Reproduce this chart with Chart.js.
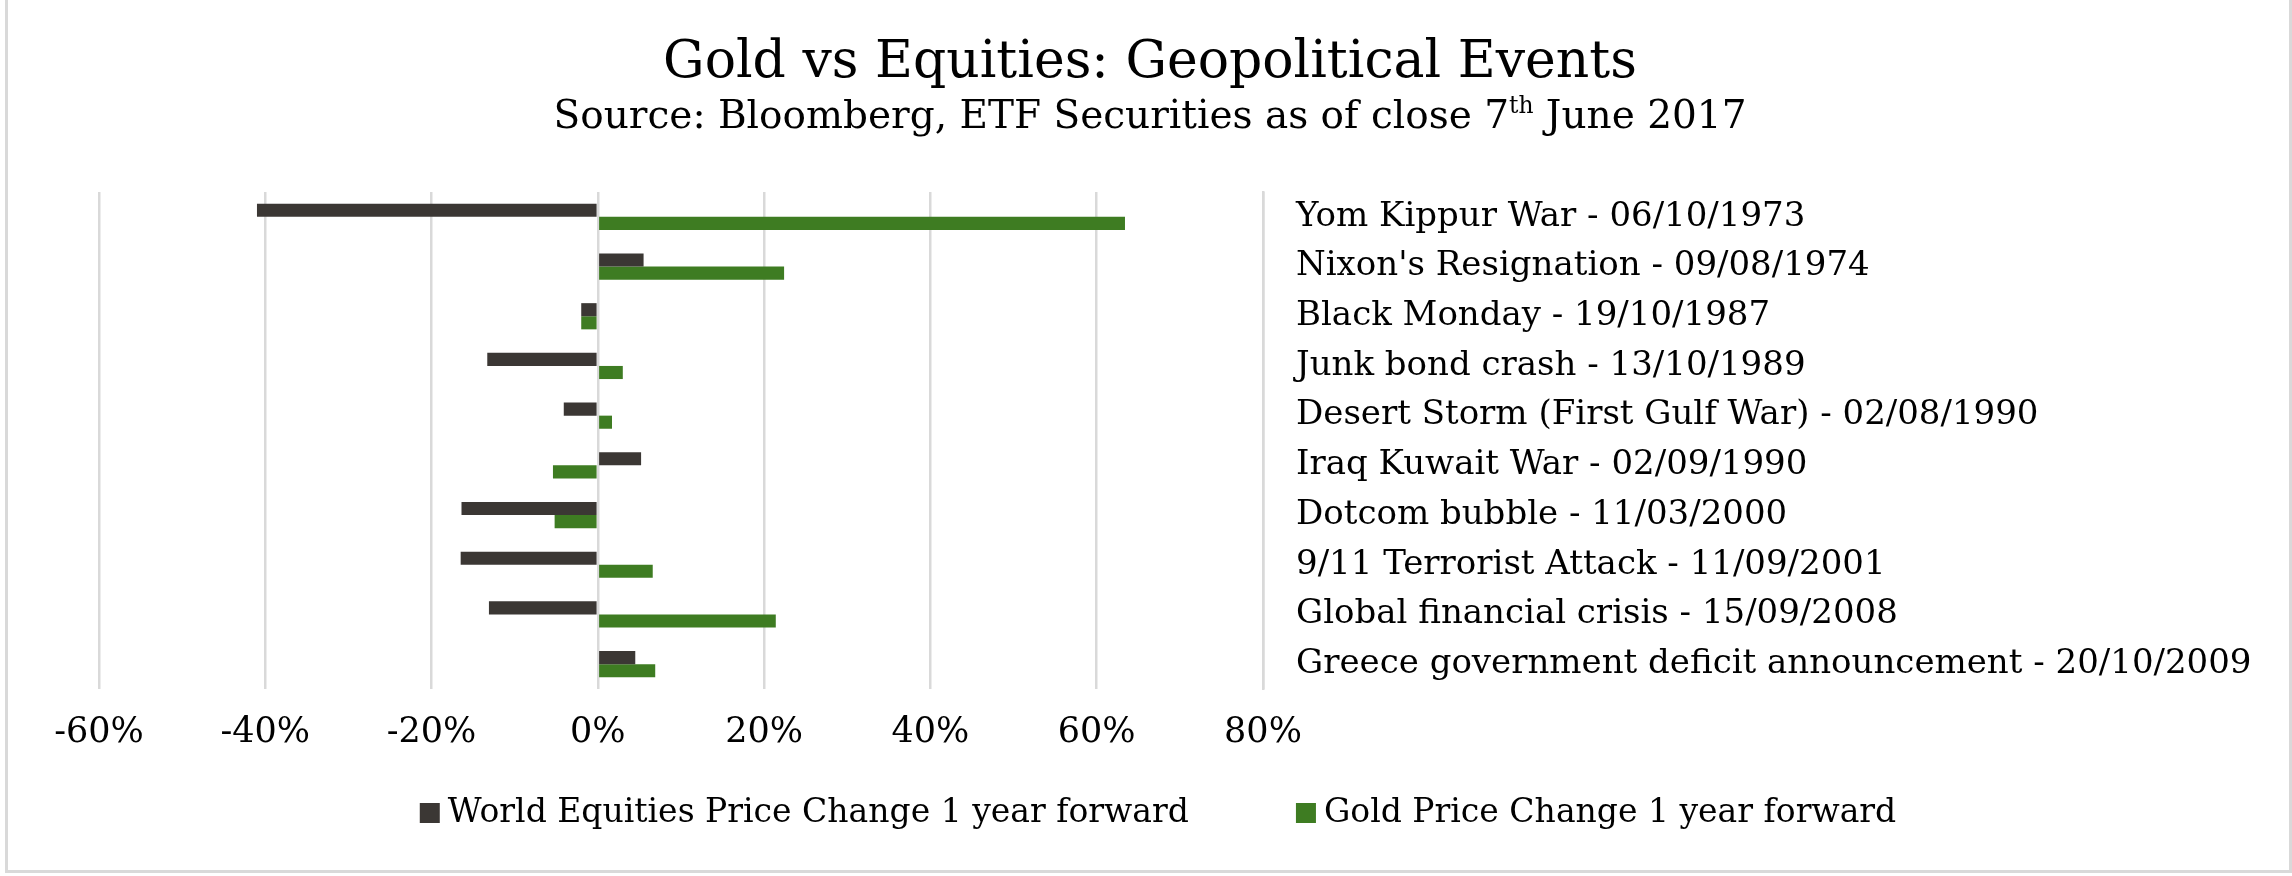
<!DOCTYPE html>
<html>
<head>
<meta charset="utf-8">
<title>Gold vs Equities: Geopolitical Events</title>
<script src="https://cdn.jsdelivr.net/npm/chart.js@4.4.0/dist/chart.umd.min.js"></script>
<style>
  html, body { margin: 0; padding: 0; background: #fff; }
  body { width: 2292px; height: 876px; position: relative; overflow: hidden; font-family: "DejaVu Serif", serif; }
  #frame { position: absolute; left: 5px; top: -10px; width: 2287px; height: 883px; box-sizing: border-box; border: 3px solid #d9d9d9; }
  #chart { position: absolute; left: 0; top: 0; }
  .head { position: absolute; left: 4px; width: 2292px; text-align: center; line-height: 1; color: #000; white-space: nowrap; }
  #title { top: 33px; font-size: 52px; }
  #subtitle { top: 95px; font-size: 39px; }
  #subtitle sup { font-size: 0.6em; line-height: 0; vertical-align: 0.65em; }
</style>
</head>
<body>
<div id="frame"></div>
<canvas id="chart" width="2292" height="876"></canvas>
<div class="head" id="title">Gold vs Equities: Geopolitical Events</div>
<div class="head" id="subtitle">Source: Bloomberg, ETF Securities as of close 7<sup>th</sup> June 2017</div>
<script>
// events, top to bottom
const categories = [
  "Yom Kippur War - 06/10/1973",
  "Nixon's Resignation - 09/08/1974",
  "Black Monday - 19/10/1987",
  "Junk bond crash - 13/10/1989",
  "Desert Storm (First Gulf War) - 02/08/1990",
  "Iraq Kuwait War - 02/09/1990",
  "Dotcom bubble - 11/03/2000",
  "9/11 Terrorist Attack - 11/09/2001",
  "Global financial crisis - 15/09/2008",
  "Greece government deficit announcement - 20/10/2009"
];

// % change 1 year forward
const equitiesChange = [-41.0, 5.5, -2.0, -13.3, -4.1, 5.2, -16.4, -16.5, -13.1, 4.5];
const goldChange = [63.4, 22.4, -2.0, 3.0, 1.7, -5.4, -5.2, 6.6, 21.4, 6.9];

const xTicks = [-60, -40, -20, 0, 20, 40, 60, 80];

Chart.defaults.font.family = '"DejaVu Serif", serif';
Chart.defaults.font.size = 35;
Chart.defaults.color = "#000";

// Excel style legend: small square, tight text gap, wide spacing between items
const bottomLegend = {
  id: "bottomLegend",
  afterDraw(chart) {
    const c = chart.ctx;
    const box = 20, gap = 8, spacing = 107;
    const y = 813;
    c.save();
    c.font = "33px 'DejaVu Serif', serif";
    c.textBaseline = "middle";
    const items = chart.data.datasets.map(ds => ({
      text: ds.label,
      color: ds.backgroundColor,
      w: box + gap + c.measureText(ds.label).width
    }));
    const total = items.reduce((s, it) => s + it.w, 0) + spacing * (items.length - 1);
    let x = chart.width / 2 + 12 - total / 2;
    items.forEach(it => {
      c.fillStyle = it.color;
      c.fillRect(x, y - box / 2, box, box);
      c.fillStyle = "#000";
      c.fillText(it.text, x + box + gap, y);
      x += it.w + spacing;
    });
    c.restore();
  }
};

const ctx = document.getElementById("chart").getContext("2d");
new Chart(ctx, {
  type: "bar",
  data: {
    labels: categories,
    datasets: [{
      label: "World Equities Price Change 1 year forward",
      data: equitiesChange,
      backgroundColor: "#3b3734",
      borderWidth: 0,
      categoryPercentage: 0.527,
      barPercentage: 1
    }, {
      label: "Gold Price Change 1 year forward",
      data: goldChange,
      backgroundColor: "#3e7c22",
      borderWidth: 0,
      categoryPercentage: 0.527,
      barPercentage: 1
    }]
  },
  options: {
    indexAxis: "y",
    responsive: false,
    animation: false,
    devicePixelRatio: 1,
    layout: { padding: { top: 192, left: 99, right: 8, bottom: 99 } },
    plugins: {
      legend: { display: false },
      tooltip: { enabled: false }
    },
    scales: {
      x: {
        min: xTicks[0],
        max: xTicks[xTicks.length - 1],
        ticks: { stepSize: 20, padding: 23, font: { size: 35 }, callback: v => v + "%" },
        grid: { color: "#d9d9d9", lineWidth: 2.5, drawTicks: false },
        border: { display: false }
      },
      y: {
        position: "right",
        grid: { display: false, drawTicks: false },
        border: { display: true, color: "#d9d9d9", width: 2.5 },
        ticks: { padding: 33, font: { size: 34 } },
        afterFit: s => { s.width = 1021; }
      }
    }
  },
  plugins: [bottomLegend]
});
</script>
</body>
</html>
